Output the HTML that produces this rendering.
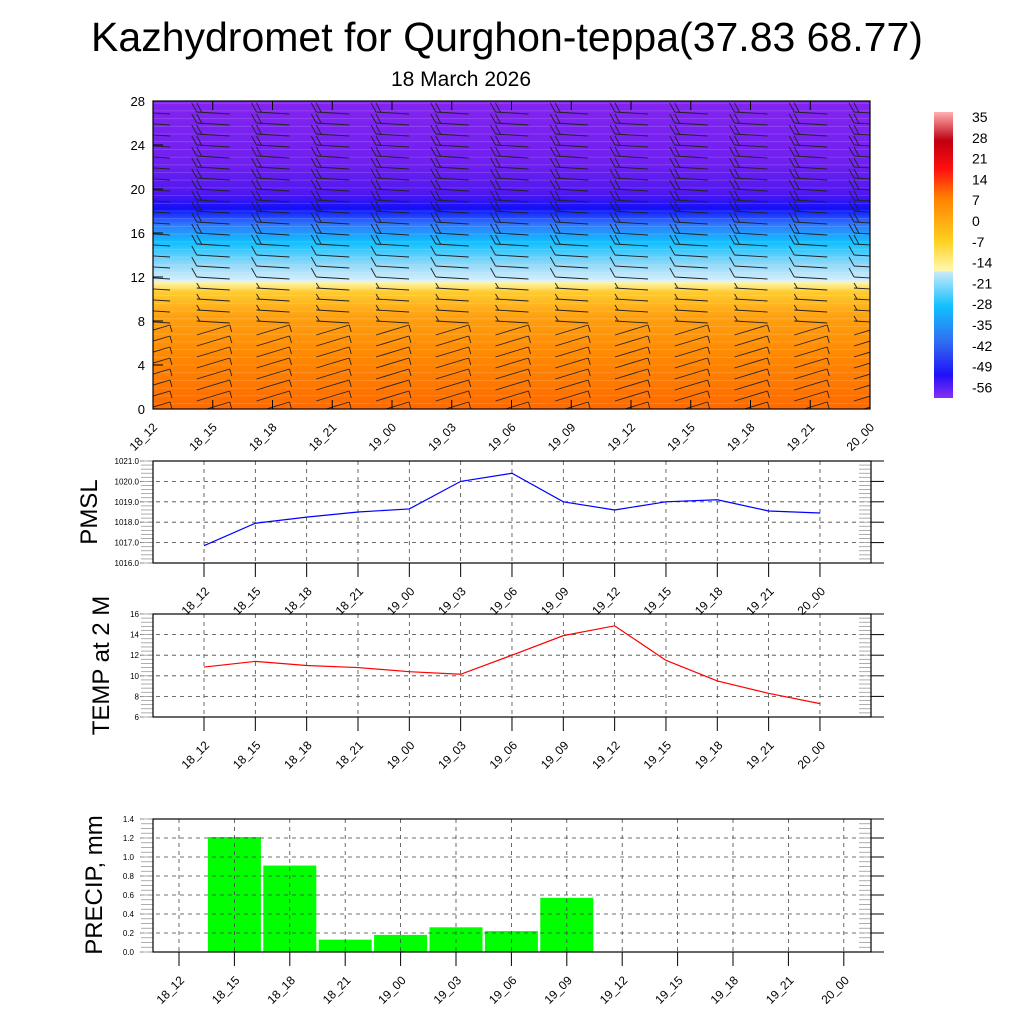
<!DOCTYPE html>
<html><head><meta charset="utf-8"><style>
body{margin:0;background:#fff;}
svg{display:block;font-family:"Liberation Sans",sans-serif;}
</style></head><body>
<svg id="chart" width="1024" height="1024" viewBox="0 0 1024 1024" xmlns="http://www.w3.org/2000/svg">
<defs>
<clipPath id="topclip"><rect x="153" y="101" width="717" height="308"/></clipPath>
<linearGradient id="tgrad" x1="0" y1="1" x2="0" y2="0">
<stop offset="0" stop-color="#ff6a00"/>
<stop offset="0.15" stop-color="#ff8400"/>
<stop offset="0.3" stop-color="#ffa010"/>
<stop offset="0.38" stop-color="#ffcc30"/>
<stop offset="0.41" stop-color="#fff6a8"/>
<stop offset="0.415" stop-color="#d8f0ff"/>
<stop offset="0.47" stop-color="#90d8f8"/>
<stop offset="0.54" stop-color="#10c0ff"/>
<stop offset="0.6" stop-color="#3078ff"/>
<stop offset="0.65" stop-color="#1010f8"/>
<stop offset="0.7" stop-color="#5018f0"/>
<stop offset="0.8" stop-color="#7020f0"/>
<stop offset="1" stop-color="#8424f0"/>
</linearGradient>
<linearGradient id="cbgrad" x1="0" y1="1" x2="0" y2="0">
<stop offset="0" stop-color="#8a2ef0"/>
<stop offset="0.08" stop-color="#2010f8"/>
<stop offset="0.2" stop-color="#3070f0"/>
<stop offset="0.32" stop-color="#10c0ff"/>
<stop offset="0.44" stop-color="#c8e8f8"/>
<stop offset="0.445" stop-color="#fff8b0"/>
<stop offset="0.55" stop-color="#ffd020"/>
<stop offset="0.7" stop-color="#ff8000"/>
<stop offset="0.8" stop-color="#ff1010"/>
<stop offset="0.9" stop-color="#c00010"/>
<stop offset="1" stop-color="#ffb0b0"/>
</linearGradient>
</defs>
<text x="507" y="51" font-size="41" text-anchor="middle">Kazhydromet for Qurghon-teppa(37.83 68.77)</text>
<text x="461" y="86" font-size="21" text-anchor="middle">18 March 2026</text>
<g id="top"></g>
<g id="cb"></g>
<g id="pmsl"></g>
<g id="temp"></g>
<g id="precip"></g>
</svg>
<script>
const timeLabels=["18_12","18_15","18_18","18_21","19_00","19_03","19_06","19_09","19_12","19_15","19_18","19_21","20_00"];
const pmslValues=[1016.85,1017.95,1018.25,1018.5,1018.65,1020.0,1020.4,1019.0,1018.6,1019.0,1019.1,1018.55,1018.45];
const tempValues=[10.85,11.4,11.0,10.8,10.4,10.15,12.0,13.9,14.85,11.5,9.5,8.3,7.3];
const precipValues=[0,1.21,0.91,0.13,0.18,0.26,0.22,0.57,0,0,0,0,0];
const heightTicks=[0,4,8,12,16,20,24,28];
const pmslTicks=["1016.0","1017.0","1018.0","1019.0","1020.0","1021.0"];
const tempTicks=[6,8,10,12,14,16];
const precipTicks=["0.0","0.2","0.4","0.6","0.8","1.0","1.2","1.4"];
const cbLabels=["35","28","21","14","7","0","-7","-14","-21","-28","-35","-42","-49","-56"];
const NS="http://www.w3.org/2000/svg";
function mk(p,t,a,txt){const e=document.createElementNS(NS,t);for(const k in a)e.setAttribute(k,a[k]);if(txt!==undefined)e.textContent=txt;p.appendChild(e);return e;}

(function(){
const g=document.getElementById('top');
const L=153,R=870,T=101,B=409;
const x=i=>L+i*(R-L)/12, y=h=>B-h*(B-T)/28;
const bg=mk(g,'rect',{x:L,y:T,width:R-L,height:B-T,fill:'url(#tgrad)'});

for(let h=0.5;h<28;h+=0.7){mk(g,'line',{x1:L,x2:R,y1:y(h),y2:y(h),stroke:'#fff',"stroke-opacity":0.18,"stroke-width":0.8});}
const bb=mk(g,'g',{stroke:'#222',"stroke-width":0.9,fill:'none',"clip-path":"url(#topclip)"});

for(let i=0;i<13;i++){for(let h=0;h<=27;h++){
 const cx=x(i),cy=y(h);
 const x0=cx-16,x1=cx+17;
 if(h>=8){
  mk(bb,'line',{x1:x0,y1:cy,x2:x1,y2:cy+2});
  if(h>=12){mk(bb,'line',{x1:x0,y1:cy,x2:x0-5,y2:cy-9});if(h>=15)mk(bb,'line',{x1:x0+5,y1:cy+0.3,x2:x0,y2:cy-9});}
  else mk(bb,'line',{x1:x0+3,y1:cy,x2:x0,y2:cy-5});
 } else {
  mk(bb,'line',{x1:x0,y1:cy+3,x2:x1,y2:cy-7});
  mk(bb,'line',{x1:x1,y1:cy-7,x2:x1+2,y2:cy});
 }
}}
for(let i=0;i<13;i++){mk(g,'line',{x1:x(i),x2:x(i),y1:T,y2:T+9,stroke:'#000'});mk(g,'line',{x1:x(i),x2:x(i),y1:B,y2:B-9,stroke:'#000'});
 const t=mk(g,'text',{x:x(i)+5,y:B+19,"font-size":12,"text-anchor":"end",transform:`rotate(-45 ${x(i)+5} ${B+19})`},timeLabels[i]);
 }
heightTicks.forEach(h=>{mk(g,'line',{x1:L,x2:L+10,y1:y(h),y2:y(h),stroke:'#000'});
 const t=mk(g,'text',{x:L-8,y:y(h)+5,"font-size":13,"text-anchor":"end"},h);
 });
mk(g,'rect',{x:L,y:T,width:R-L,height:B-T,fill:'none',stroke:'#000',"stroke-width":1.2});
})();

(function(){
const g=document.getElementById('cb');
mk(g,'rect',{x:934,y:112,width:19,height:286,fill:'url(#cbgrad)'});
cbLabels.forEach((s,i)=>{const t=mk(g,'text',{x:972,y:122+i*20.8,"font-size":14},s);
 });
})();

function linePanel(id,T,B,min,max,ticks,vals,color,title,tx,fs,tickFs){
const g=document.getElementById(id);
const L=153,R=871;
const x=i=>204+i*51.33, y=v=>B-(v-min)/(max-min)*(B-T);
ticks.forEach(tv=>{const v=+tv;
 mk(g,'line',{x1:140,x2:R,y1:y(v),y2:y(v),stroke:'#444',"stroke-dasharray":"4 4","stroke-width":0.8});
 mk(g,'line',{x1:R,x2:884,y1:y(v),y2:y(v),stroke:'#000'});
 const t=mk(g,'text',{x:139,y:y(v)+3,"font-size":tickFs,"text-anchor":"end"},tv);
 });
const step=(max-min)/(ticks.length-1)/5;
for(let v=min;v<=max+1e-9;v+=step){mk(g,'line',{x1:L-12,x2:L,y1:y(v),y2:y(v),stroke:'#999',"stroke-width":0.8});mk(g,'line',{x1:R-12,x2:R,y1:y(v),y2:y(v),stroke:'#999',"stroke-width":0.8});}
for(let i=0;i<13;i++){mk(g,'line',{x1:x(i),x2:x(i),y1:T,y2:B,stroke:'#444',"stroke-dasharray":"4 4","stroke-width":0.8});
 mk(g,'line',{x1:x(i),x2:x(i),y1:B,y2:B+14,stroke:'#000'});
 const t=mk(g,'text',{x:x(i)+6,y:B+29,"font-size":12,"text-anchor":"end",transform:`rotate(-45 ${x(i)+6} ${B+29})`},timeLabels[i]);
 }
const p=mk(g,'polyline',{points:vals.map((v,i)=>x(i)+','+y(v)).join(' '),fill:'none',stroke:color,"stroke-width":1.2});

mk(g,'rect',{x:L,y:T,width:R-L,height:B-T,fill:'none',stroke:'#000',"stroke-width":1.2});
const t=mk(g,'text',{x:tx,y:(T+B)/2,"font-size":fs,"text-anchor":"middle",transform:`rotate(-90 ${tx} ${(T+B)/2})`},title);

}
linePanel('pmsl',461,563,1016,1021,pmslTicks,pmslValues,'#0000ff','PMSL',97,24,8);
linePanel('temp',614,717,6,16,tempTicks,tempValues,'#ff0000','TEMP at 2 M',109,24,8);

(function(){
const g=document.getElementById('precip');
const L=153,R=871,T=819,B=952;
const x=i=>179+i*55.4, y=v=>B-v/1.4*(B-T);
precipValues.forEach((v,i)=>{if(v<=0)return;const r=mk(g,'rect',{x:x(i)-26.5,y:y(v),width:53,height:B-y(v),fill:'#00ff00'});
 });
precipTicks.forEach(tv=>{const v=+tv;
 mk(g,'line',{x1:140,x2:R,y1:y(v),y2:y(v),stroke:'#444',"stroke-dasharray":"4 4","stroke-width":0.8});
 mk(g,'line',{x1:R,x2:884,y1:y(v),y2:y(v),stroke:'#000'});
 const t=mk(g,'text',{x:134,y:y(v)+3,"font-size":8,"text-anchor":"end"},tv);
 });
for(let v=0;v<=1.4001;v+=0.05){mk(g,'line',{x1:L-12,x2:L,y1:y(v),y2:y(v),stroke:'#999',"stroke-width":0.8});mk(g,'line',{x1:R-12,x2:R,y1:y(v),y2:y(v),stroke:'#999',"stroke-width":0.8});}
for(let i=0;i<13;i++){mk(g,'line',{x1:x(i),x2:x(i),y1:T,y2:B,stroke:'#444',"stroke-dasharray":"4 4","stroke-width":0.8});
 mk(g,'line',{x1:x(i),x2:x(i),y1:B,y2:B+14,stroke:'#000'});
 const t=mk(g,'text',{x:x(i)+6,y:B+29,"font-size":12,"text-anchor":"end",transform:`rotate(-45 ${x(i)+6} ${B+29})`},timeLabels[i]);
 }
mk(g,'rect',{x:L,y:T,width:R-L,height:B-T,fill:'none',stroke:'#000',"stroke-width":1.2});
const t=mk(g,'text',{x:102,y:885,"font-size":24,"text-anchor":"middle",transform:'rotate(-90 102 885)'},'PRECIP, mm');

})();
</script>
</body></html>
